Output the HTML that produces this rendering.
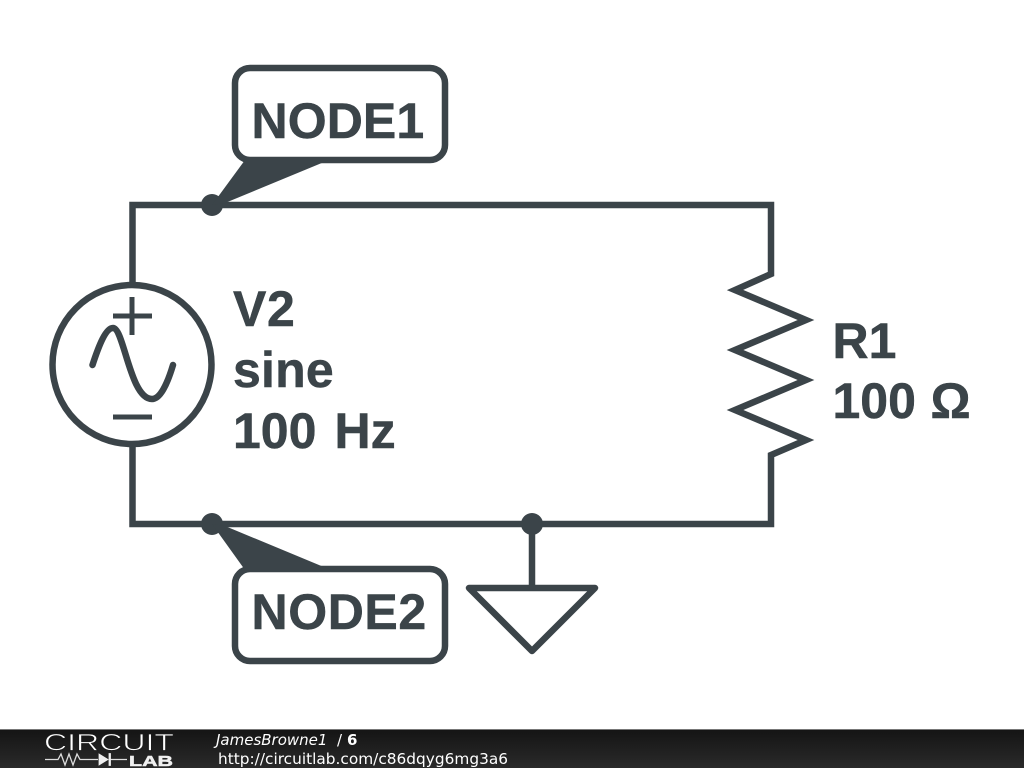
<!DOCTYPE html>
<html>
<head>
<meta charset="utf-8">
<style>
html,body{margin:0;padding:0;background:#fff;width:1024px;height:768px;overflow:hidden}
svg{display:block}
.l{font-family:"Liberation Sans",sans-serif;font-weight:bold;font-size:50px;fill:#3b4449;stroke:#3b4449;stroke-width:0.5px}
.f{font-family:"DejaVu Sans",sans-serif;font-size:15px;fill:#fff}
</style>
</head>
<body>
<svg width="1024" height="768" viewBox="0 0 1024 768" xmlns="http://www.w3.org/2000/svg">
<defs>
<linearGradient id="g" x1="0" y1="0" x2="0" y2="1">
<stop offset="0" stop-color="#141414"/><stop offset="1" stop-color="#2a2a2a"/>
</linearGradient>
</defs>
<rect width="1024" height="768" fill="#fff"/>
<g fill="none" stroke="#3b4449" stroke-width="6.500" stroke-linejoin="round">
<path d="M132.500 284V205H771V274L735 290L806 320L735 350L806 380L735 410L806 440L771 455V524H132.500V446" stroke-linejoin="miter"/>
<circle cx="132" cy="364.500" r="79.500"/>
<path d="M113 316H152M132 297V335M113 417H152" stroke-width="5"/>
<path d="M92.500 365C99 345 106 328 113 328C124 328 130 399 152 399C160 399 167 385 173 365" stroke-linecap="round"/>
<path d="M532 524V588"/>
<path d="M469 588H595L532 651Z"/>
<rect x="235" y="68" width="210" height="92" rx="15"/>
<rect x="235" y="569" width="210" height="92" rx="15"/>
</g>
<g fill="#3b4449">
<circle cx="212" cy="205" r="11"/>
<circle cx="212" cy="524" r="11"/>
<circle cx="532" cy="524" r="11"/>
<path d="M212 205L245 160H329L225 203Z"/>
<path d="M212 524L245 570H331L225 526Z"/>
</g>
<text class="l" x="251.500" y="138" letter-spacing="0.100">NODE1</text>
<text class="l" x="251.500" y="629" letter-spacing="0.600">NODE2</text>
<text class="l" x="233" y="326" letter-spacing="0.600">V2</text>
<text class="l" x="233" y="387" letter-spacing="0.200">sine</text>
<text class="l" x="233" y="448">100 <tspan x="334.500">Hz</tspan></text>
<text class="l" x="832.500" y="358">R1</text>
<text class="l" x="832.500" y="418">100 <tspan x="930.500">Ω</tspan></text>
<rect x="0" y="729" width="1024" height="39" fill="url(#g)"/>
<rect x="0" y="729" width="1024" height="1" fill="#777"/>
<text x="44" y="750.500" font-family="'Liberation Sans',sans-serif" font-size="24.500" fill="#fff" stroke="#1c1c1c" stroke-width="0.700" textLength="130" lengthAdjust="spacingAndGlyphs">CIRCUIT</text>
<path d="M45 759.500H58L61 754L65 765L69 754L73 765L77 754L80 759.500H98M110 759.500H127" fill="none" stroke="#ddd" stroke-width="1.300"/>
<path d="M99 754V765L108 759.500ZM109 753.500V765.500H110.500V753.500Z" fill="#f0f0f0" stroke="#f0f0f0" stroke-width="0.800"/>
<text x="129" y="766" font-family="'Liberation Sans',sans-serif" font-weight="bold" font-size="15" fill="#f0f0f0" stroke="#f0f0f0" stroke-width="0.500" textLength="44" lengthAdjust="spacingAndGlyphs">LAB</text>
<text class="f" x="216" y="745"><tspan font-style="oblique" font-size="15">JamesBrowne1</tspan><tspan x="337">/</tspan><tspan x="347" font-weight="bold">6</tspan></text>
<text class="f" x="218" y="764" textLength="290" lengthAdjust="spacingAndGlyphs">http://circuitlab.com/c86dqyg6mg3a6</text>
</svg>
</body>
</html>
